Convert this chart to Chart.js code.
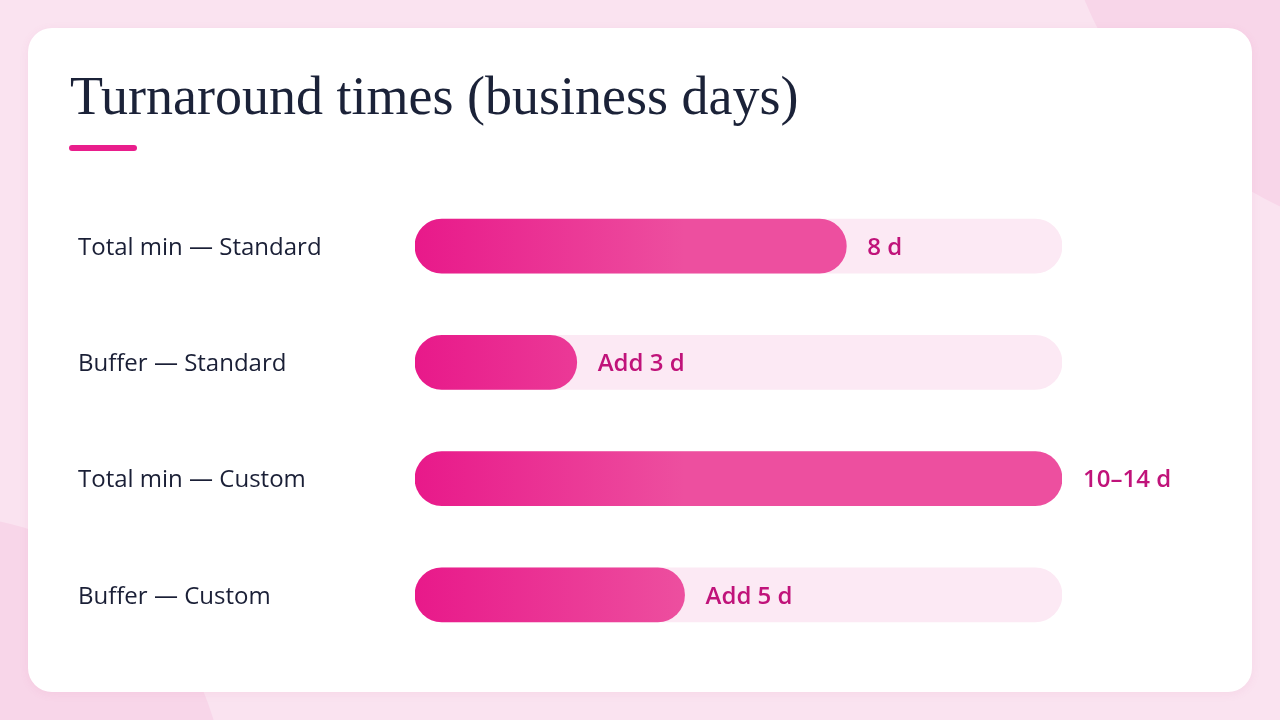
<!DOCTYPE html>
<html>
<head>
<meta charset="utf-8">
<script src="https://cdn.jsdelivr.net/npm/chart.js@4"></script>
<style>
  html, body { margin: 0; padding: 0; }
  body {
    width: 1280px; height: 720px; overflow: hidden; position: relative;
    background: #fae3f0;
  }
  .blob { position: absolute; border-radius: 50%; background: #f8d6e9; }
  .blob.tr { width: 790px; height: 790px; left: 1055px; top: -545px; }
  .blob.bl { width: 570px; height: 570px; left: -345px; top: 515px; }
  .card {
    position: absolute; left: 28px; top: 28px; width: 1224px; height: 664px;
    background: #fff; border-radius: 24px;
    box-shadow: 0 2px 10px rgba(200, 80, 140, 0.08);
  }
  h1 {
    position: absolute; left: 70px; top: 64px; margin: 0;
    font-family: "Liberation Serif", serif; font-weight: 400;
    font-size: 54px; line-height: 64px; color: #1b2238;
  }
  .accent {
    position: absolute; left: 69px; top: 145px; width: 68px; height: 6px;
    background: #e91e8c; border-radius: 3px;
  }
  #wrap { position: absolute; left: 0; top: 0; width: 1280px; height: 720px; }
</style>
</head>
<body>
<div class="blob tr"></div>
<div class="blob bl"></div>
<div class="card"></div>
<h1>Turnaround times (business days)</h1>
<div class="accent"></div>
<div id="wrap"><canvas id="myChart"></canvas></div>
<script>
const categories = ['Total min — Standard', 'Buffer — Standard', 'Total min — Custom', 'Buffer — Custom'];
const days = [8, 3, 12, 5];
const valueLabels = ['8 d', 'Add 3 d', '10–14 d', 'Add 5 d'];
const trackMax = [12, 12, 12, 12];

const ctx = document.getElementById('myChart');

// gradiente por barra, de izquierda a derecha
const gradientBars = {
    id: 'gradientBars',
    beforeDatasetDraw(chart, args) {
        if (args.index !== 1) return;
        const c = chart.ctx;
        args.meta.data.forEach(bar => {
            const g = c.createLinearGradient(bar.base, 0, bar.x, 0);
            g.addColorStop(0, '#e8198a');
            g.addColorStop(1, '#ed4f9f');
            bar.options.backgroundColor = g;
        });
    },
    afterDatasetsDraw(chart) {
        const c = chart.ctx;
        const meta = chart.getDatasetMeta(1);
        c.save();
        c.font = '600 24px "Open Sans"';
        c.fillStyle = '#c0137a';
        c.textBaseline = 'middle';
        meta.data.forEach((bar, i) => {
            c.fillText(valueLabels[i], bar.x + 21, bar.y + 2);
        });
        c.restore();
    }
};

new Chart(ctx, {
    type: 'bar',
    data: {
        labels: categories,
        datasets: [
            {
                label: 'track',
                data: trackMax,
                backgroundColor: '#fce9f4',
                borderRadius: 27,
                borderSkipped: false,
                barThickness: 54,
                grouped: false,
                order: 2
            },
            {
                label: 'Business days',
                data: days,
                backgroundColor: '#e91e8c',
                borderRadius: 27,
                borderSkipped: false,
                barThickness: 54,
                grouped: false,
                order: 1
            }
        ]
    },
    options: {
        indexAxis: 'y',
        responsive: true,
        maintainAspectRatio: false,
        animation: false,
        layout: { padding: { left: 78, right: 218, top: 188, bottom: 67 } },
        plugins: {
            legend: { display: false },
            tooltip: { enabled: false }
        },
        scales: {
            x: { display: false, min: 0, max: 12 },
            y: {
                grid: { display: false },
                border: { display: false },
                afterFit(scale) { scale.width = 337; },
                ticks: {
                    crossAlign: 'far',
                    color: '#1a1f36',
                    font: { family: 'Open Sans', size: 24, weight: '500' },
                    padding: 0,
                    labelOffset: 2
                }
            }
        }
    },
    plugins: [gradientBars]
});
</script>
</body>
</html>
